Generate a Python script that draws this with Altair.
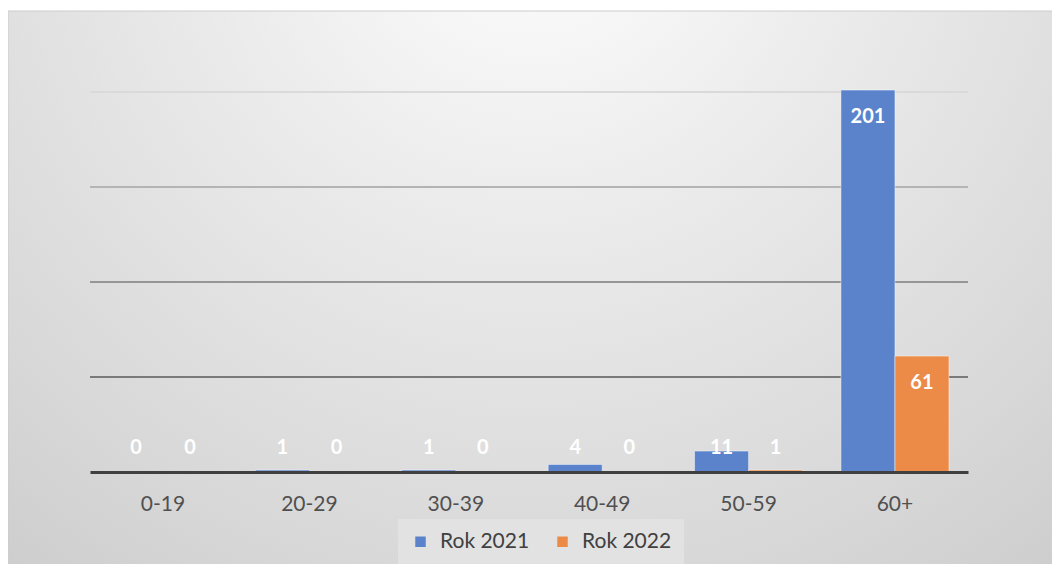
import altair as alt
import pandas as pd

categories = ["0-19", "20-29", "30-39", "40-49", "50-59", "60+"]
series = ["Rok 2021", "Rok 2022"]
rok_2021 = [0, 1, 1, 4, 11, 201]
rok_2022 = [0, 0, 0, 0, 1, 61]
grid_values = [50, 100, 150, 200]
grid_colors = ["#7a7a7a", "#969696", "#b4b4b4", "#dadada"]
bar_colors = ["#5a83cb", "#ec8b48"]

rows = []
for i, c in enumerate(categories):
    rows.append({"cat": c, "series": series[0], "v": rok_2021[i]})
    rows.append({"cat": c, "series": series[1], "v": rok_2022[i]})
df = pd.DataFrame(rows)
grid_df = pd.DataFrame({"g": grid_values})

W, H = 878, 418
FONT = "Lato"

xscale = alt.Scale(domain=categories, paddingInner=0.262, paddingOuter=0.13)
yscale = alt.Scale(domain=[0, 220], nice=False)

bg = alt.Chart(pd.DataFrame({"a": [0]})).mark_rect(
    fill=alt.Gradient(
        gradient="radial",
        stops=[
            alt.GradientStop(color="#ffffff", offset=0),
            alt.GradientStop(color="#ececec", offset=0.3),
            alt.GradientStop(color="#d8d8d8", offset=0.65),
            alt.GradientStop(color="#c2c2c2", offset=1),
        ],
        x1=0.5, y1=0.12, r1=0, x2=0.5, y2=0.12, r2=1.0,
    ),
    stroke="#cccccc",
    strokeWidth=1,
).encode(
    x=alt.value(-82), x2=alt.value(W + 90), y=alt.value(-43), y2=alt.value(H + 100)
)

grid = alt.Chart(grid_df).mark_rule(strokeWidth=2).encode(
    y=alt.Y("g:Q", scale=yscale, axis=None),
    stroke=alt.Stroke("g:O", scale=alt.Scale(domain=grid_values, range=grid_colors), legend=None),
)

bars = alt.Chart(df).mark_bar(stroke="#ffffff", strokeOpacity=0.45, strokeWidth=1).encode(
    x=alt.X("cat:N", scale=xscale, sort=categories,
            axis=alt.Axis(title=None, labelFont=FONT, labelFontSize=21, labelColor="#505050",
                          labelPadding=21, ticks=False, domainColor="#404040", domainWidth=3,
                          labelAngle=0, zindex=1, grid=False)),
    xOffset=alt.XOffset("series:N", sort=series, scale=alt.Scale(paddingInner=0, paddingOuter=0)),
    y=alt.Y("v:Q", scale=yscale, axis=None),
    color=alt.Color("series:N", sort=series,
                    scale=alt.Scale(domain=series, range=bar_colors),
                    legend=alt.Legend(title=None, orient="none", direction="horizontal",
                                      legendX=308, legendY=465,
                                      labelFont=FONT, labelFontSize=21, labelColor="#404040",
                                      symbolType="square", symbolSize=110, symbolStrokeWidth=0,
                                      columnPadding=22, labelOffset=9, padding=12,
                                      fillColor="#e2e2e2")),
)

labels = alt.Chart(df).transform_calculate(
    lp="max(datum.v, 26.8)"
).mark_text(font=FONT, fontSize=20, fontWeight="bold", color="#ffffff", dy=27,
            baseline="middle").encode(
    x=alt.X("cat:N", scale=xscale, sort=categories),
    xOffset=alt.XOffset("series:N", sort=series),
    y=alt.Y("lp:Q", scale=yscale),
    text=alt.Text("v:Q"),
)

chart = alt.layer(bg, grid, bars, labels).resolve_scale(stroke="independent").properties(
    width=W, height=H,
    autosize=alt.AutoSizeParams(type="none"),
    padding={"left": 82, "top": 46, "right": 84, "bottom": 92},
    background="#ffffff",
).configure_view(stroke=None)

chart.save("out.html", embed_options={"renderer": "svg", "actions": False})
